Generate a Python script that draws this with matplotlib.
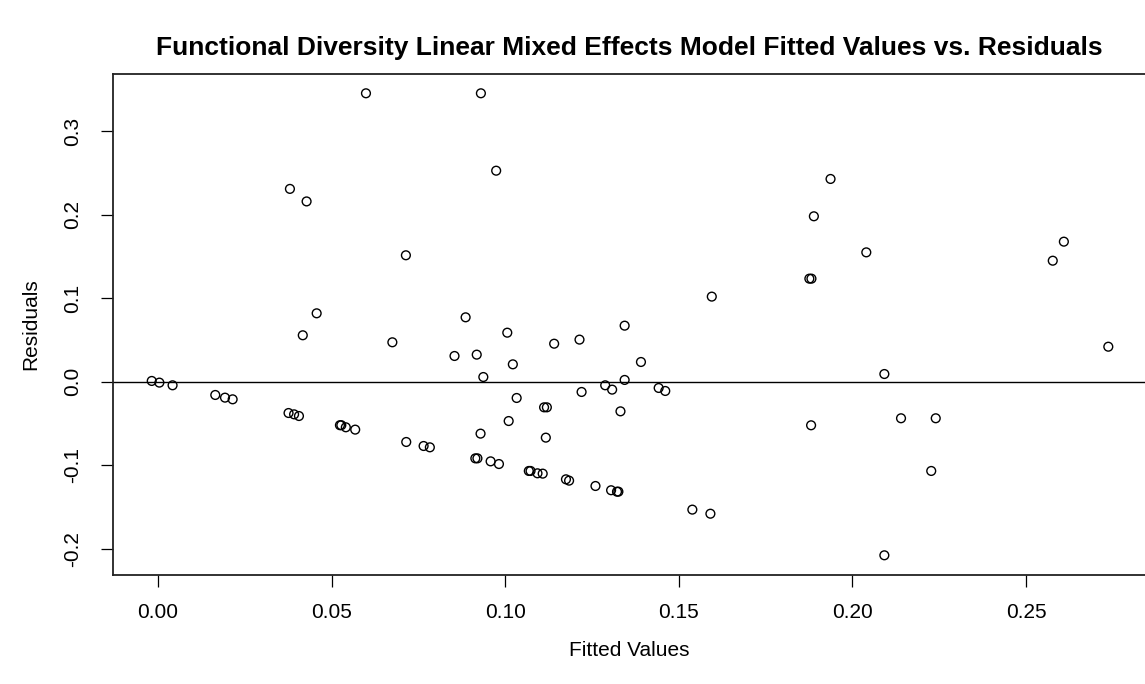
import matplotlib
matplotlib.use("Agg")
import matplotlib.pyplot as plt

plt.rcParams["font.family"] = ["Liberation Sans", "DejaVu Sans"]

# fitted values and residuals
fitted = [
    0.0599, 0.0930, 0.0974, 0.0380, 0.0428, 0.1937, 0.1889, 0.2040, 0.0714,
    0.2609, 0.2577, 0.1876, 0.1882, 0.1595, 0.0457, 0.0886, 0.1344, 0.1006,
    0.0417, 0.1214, 0.0675, 0.1141, 0.2737, 0.0918, 0.0854, 0.1391, 0.1022,
    0.2092, 0.0937, 0.1344, -0.0018, 0.0004, 0.0042, 0.1288, 0.1442, 0.1308,
    0.1461, 0.1220, 0.0165, 0.0193, 0.0215, 0.1033, 0.1112, 0.1120, 0.1332,
    0.0376, 0.0392, 0.0406, 0.2140, 0.2240, 0.1010, 0.1881, 0.0524, 0.0528,
    0.0541, 0.0568, 0.0929, 0.1117, 0.0715, 0.0765, 0.0783, 0.0914, 0.0920,
    0.0958, 0.0982, 0.2227, 0.1068, 0.1073, 0.1093, 0.1108, 0.1175, 0.1184,
    0.1260, 0.1305, 0.1322, 0.1326, 0.1539, 0.1591, 0.2092,
]
residuals = [
    0.3455, 0.3455, 0.2528, 0.2310, 0.2160, 0.2429, 0.1982, 0.1550, 0.1515,
    0.1678, 0.1450, 0.1235, 0.1235, 0.1020, 0.0820, 0.0772, 0.0672, 0.0588,
    0.0557, 0.0505, 0.0473, 0.0456, 0.0420, 0.0325, 0.0309, 0.0237, 0.0209,
    0.0093, 0.0057, 0.0022, 0.0010, -0.0010, -0.0042, -0.0042, -0.0074, -0.0094,
    -0.0110, -0.0122, -0.0158, -0.0190, -0.0210, -0.0194, -0.0306, -0.0306, -0.0354,
    -0.0374, -0.0390, -0.0410, -0.0437, -0.0437, -0.0470, -0.0521, -0.0520, -0.0520,
    -0.0545, -0.0573, -0.0621, -0.0669, -0.0721, -0.0769, -0.0785, -0.0917, -0.0917,
    -0.0953, -0.0985, -0.1068, -0.1068, -0.1068, -0.1096, -0.1100, -0.1168, -0.1184,
    -0.1248, -0.1299, -0.1316, -0.1316, -0.1531, -0.1580, -0.2078,
]

x_ticks = [0.00, 0.05, 0.10, 0.15, 0.20, 0.25]
x_tick_labels = ["0.00", "0.05", "0.10", "0.15", "0.20", "0.25"]
y_ticks = [-0.2, -0.1, 0.0, 0.1, 0.2, 0.3]
y_tick_labels = ["-0.2", "-0.1", "0.0", "0.1", "0.2", "0.3"]

W, H = 1145, 684
fig = plt.figure(figsize=(W / 100, H / 100), dpi=100)

# plot box in pixels: left 113, right 1146 (just past the edge), top 74, bottom 575
ax = fig.add_axes([113.3 / W, (H - 575) / H, (1146.5 - 113.3) / W, (575 - 74) / H])

ax.scatter(fitted, residuals, s=40, facecolors="none", edgecolors="black",
           linewidths=1.0, zorder=3)
ax.axhline(0, color="black", linewidth=1.0)

ax.set_xlim(-0.01287, 0.2847)
ax.set_ylim(-0.2314, 0.3686)

ax.set_xticks(x_ticks)
ax.set_xticklabels(x_tick_labels)
ax.set_yticks(y_ticks)
ax.set_yticklabels(y_tick_labels, rotation=90, va="center")

ax.tick_params(axis="both", direction="out", length=8.5, width=0.9,
               labelsize=15, colors="black")
ax.tick_params(axis="x", pad=12)
ax.tick_params(axis="y", pad=14)

for sp in ax.spines.values():
    sp.set_linewidth(1.3)
    sp.set_color("#222222")

fig.text(629.7 / W, 1 - 48 / H,
         "Functional Diversity Linear Mixed Effects Model Fitted Values vs. Residuals",
         ha="center", va="center", fontsize=19, fontweight="bold")
fig.text(629.7 / W, 1 - 650 / H, "Fitted Values", ha="center", va="center", fontsize=15)
fig.text(31 / W, 1 - 324.5 / H, "Residuals", ha="center", va="center",
         rotation=90, fontsize=15)

fig.savefig("out.png", dpi=100, facecolor="white")
